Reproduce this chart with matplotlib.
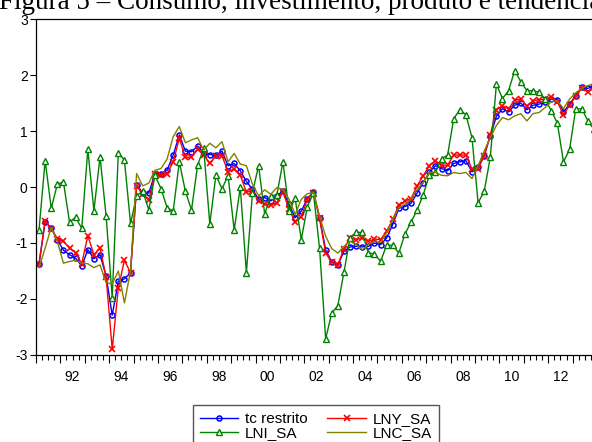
import numpy as np
import matplotlib
matplotlib.use("Agg")
import matplotlib.pyplot as plt
import matplotlib.transforms as mtransforms

plt.rcParams['font.family'] = ['Liberation Sans', 'DejaVu Sans']
plt.rcParams['axes.unicode_minus'] = False

# quarterly series, 1991Q1 - 2013Q4
start_year = 1991
n_obs = 92

tc_restrito = [
    -1.37, -0.62, -0.73, -0.94, -1.13, -1.21, -1.27, -1.41, -1.12, -1.28, -1.21, -1.59,
    -2.29, -1.68, -1.64, -1.53, 0.03, -0.10, -0.11, 0.24, 0.24, 0.30, 0.57,
    0.93, 0.64, 0.63, 0.73, 0.61, 0.58, 0.57, 0.64, 0.38, 0.42, 0.29, 0.10, -0.04,
    -0.22, -0.19, -0.25, -0.16, -0.07, -0.31, -0.55, -0.43, -0.21,
    -0.09, -0.55, -1.12, -1.34, -1.39, -1.15, -1.07, -1.06, -1.07, -1.06, -1.00,
    -1.03, -0.91, -0.67, -0.38, -0.35, -0.29, -0.11, 0.08, 0.26, 0.38, 0.33,
    0.29, 0.42, 0.45, 0.47, 0.27, 0.35, 0.56, 0.91, 1.26, 1.40, 1.34, 1.46, 1.50,
    1.38, 1.46, 1.48, 1.51, 1.57, 1.56, 1.34, 1.48, 1.63, 1.78, 1.76, 1.81,
]
lny_sa = [
    -1.37, -0.60, -0.75, -0.92, -0.97, -1.09, -1.18, -1.37, -0.87, -1.21, -1.09, -1.61,
    -2.90, -1.80, -1.31, -1.53, 0.02, -0.13, -0.23, 0.23, 0.21, 0.24, 0.45,
    0.87, 0.53, 0.53, 0.67, 0.57, 0.42, 0.56, 0.56, 0.27, 0.32, 0.21, -0.09, -0.07,
    -0.25, -0.30, -0.33, -0.28, -0.09, -0.40, -0.62, -0.53, -0.22,
    -0.10, -0.56, -1.18, -1.34, -1.39, -1.10, -0.91, -0.94, -0.91, -0.97, -0.93,
    -0.94, -0.79, -0.58, -0.33, -0.25, -0.21, 0.02, 0.20, 0.38, 0.47, 0.39,
    0.39, 0.57, 0.57, 0.57, 0.32, 0.32, 0.56, 0.93, 1.38, 1.45, 1.40, 1.55, 1.57,
    1.44, 1.54, 1.56, 1.57, 1.61, 1.52, 1.29, 1.46, 1.62, 1.76, 1.70, 1.78,
]
lni_sa = [
    -0.76, 0.47, -0.38, 0.05, 0.09, -0.63, -0.54, -0.74, 0.67, -0.42, 0.54, -0.52,
    -1.98, 0.61, 0.48, -0.65, -0.16, -0.07, -0.41, 0.21, -0.03, -0.37, -0.43,
    0.45, -0.08, -0.41, 0.39, 0.69, -0.66, 0.21, -0.03, 0.20, -0.77, 0.00, -1.53, -0.10,
    0.38, -0.48, -0.16, -0.14, 0.45, -0.43, -0.20, -0.94, -0.35,
    -0.11, -1.09, -2.71, -2.25, -2.12, -1.52, -0.91, -0.81, -0.81, -1.18, -1.19,
    -1.33, -1.04, -1.04, -1.18, -0.84, -0.63, -0.41, -0.14, 0.21, 0.26, 0.50,
    0.57, 1.22, 1.38, 1.29, 0.88, -0.28, -0.08, 0.53, 1.84, 1.58, 1.72, 2.08, 1.88,
    1.72, 1.72, 1.69, 1.57, 1.36, 1.14, 0.45, 0.67, 1.39, 1.40, 1.18, 1.03,
]
lnc_sa = [
    -1.44, -1.09, -0.72, -0.97, -1.36, -1.33, -1.31, -1.36, -1.37, -1.44, -1.39, -1.71,
    -1.73, -1.50, -2.07, -1.50, 0.24, 0.02, 0.07, 0.30, 0.33, 0.50, 0.90,
    1.08, 0.79, 0.84, 0.88, 0.66, 0.78, 0.70, 0.81, 0.45, 0.60, 0.41, 0.38, 0.05,
    -0.16, -0.05, -0.13, -0.01, -0.04, -0.22, -0.49, -0.22, -0.12,
    -0.10, -0.52, -0.88, -1.10, -1.18, -1.06, -0.97, -1.03, -1.12, -1.03, -0.97,
    -0.99, -0.82, -0.58, -0.37, -0.31, -0.22, -0.04, 0.08, 0.26, 0.26, 0.21,
    0.20, 0.26, 0.24, 0.26, 0.15, 0.38, 0.64, 0.88, 1.10, 1.24, 1.20, 1.27, 1.31,
    1.18, 1.31, 1.33, 1.42, 1.52, 1.54, 1.40, 1.57, 1.68, 1.76, 1.81, 1.84,
]

year_labels = ['92', '94', '96', '98', '00', '02', '04', '06', '08', '10', '12']
label_years = [1992, 1994, 1996, 1998, 2000, 2002, 2004, 2006, 2008, 2010, 2012]

# each observation sits in the middle of its quarter
t = start_year + (np.arange(n_obs) + 0.5) / 4.0

W, H = 592, 442
fig = plt.figure(figsize=(W / 100, H / 100), dpi=100)
# right edge of the frame runs past the page edge
ax = fig.add_axes([36 / W, (H - 355) / H, 561 / W, 336 / H])

l_tc, = ax.plot(t, tc_restrito, color='#0000ff', lw=1.0, marker='o', ms=3.6,
                mfc='none', mec='#0000ff', mew=1.1, label='tc restrito')
l_ny, = ax.plot(t, lny_sa, color='#ff0000', lw=1.0, marker='x', ms=4.6,
                mew=1.2, label='LNY_SA')
l_ni, = ax.plot(t, lni_sa, color='#008000', lw=1.0, marker='^', ms=5.0,
                mfc='white', mec='#008000', mew=1.0, label='LNI_SA')
l_nc, = ax.plot(t, lnc_sa, color='#808000', lw=1.0, label='LNC_SA')

ax.set_xlim(1991, 2014)
ax.set_ylim(-3, 3)
ax.set_yticks(range(-3, 4))
ax.tick_params(axis='y', direction='out', length=4, width=0.8, labelsize=10, pad=2)

years = np.arange(1991, 2015)
quarters = np.arange(1991, 2014, 0.25)
ax.set_xticks(years)
ax.set_xticklabels([])
ax.set_xticks(quarters, minor=True)
ax.tick_params(axis='x', which='major', direction='out', length=6, width=0.8)
ax.tick_params(axis='x', which='minor', direction='out', length=3.5, width=0.8)

# year labels centred within their year
trans = mtransforms.blended_transform_factory(ax.transData, ax.transAxes)
for yr, lab in zip(label_years, year_labels):
    ax.text(yr + 0.5, -0.045, lab, transform=trans, ha='center', va='top', fontsize=10)

for s in ax.spines.values():
    s.set_linewidth(0.9)

fig.text(-0.002, 1 - 9 / H, 'Figura 5 – Consumo, investimento, produto e tendência',
         family='Liberation Serif', fontsize=19.5, ha='left', va='baseline')

# legend filled row by row: tc restrito | LNY_SA, then LNI_SA | LNC_SA
fig.legend([l_tc, l_ni, l_ny, l_nc], ['tc restrito', 'LNI_SA', 'LNY_SA', 'LNC_SA'],
           loc='upper left', bbox_to_anchor=(193 / W, 1 - 405 / H), ncol=2,
           fontsize=11, frameon=True, fancybox=False, edgecolor='#555555',
           framealpha=1, borderaxespad=0, borderpad=0.45, handlelength=2.5,
           handletextpad=0.45, columnspacing=1.3, labelspacing=0.0)

fig.savefig('out.png', dpi=100)
